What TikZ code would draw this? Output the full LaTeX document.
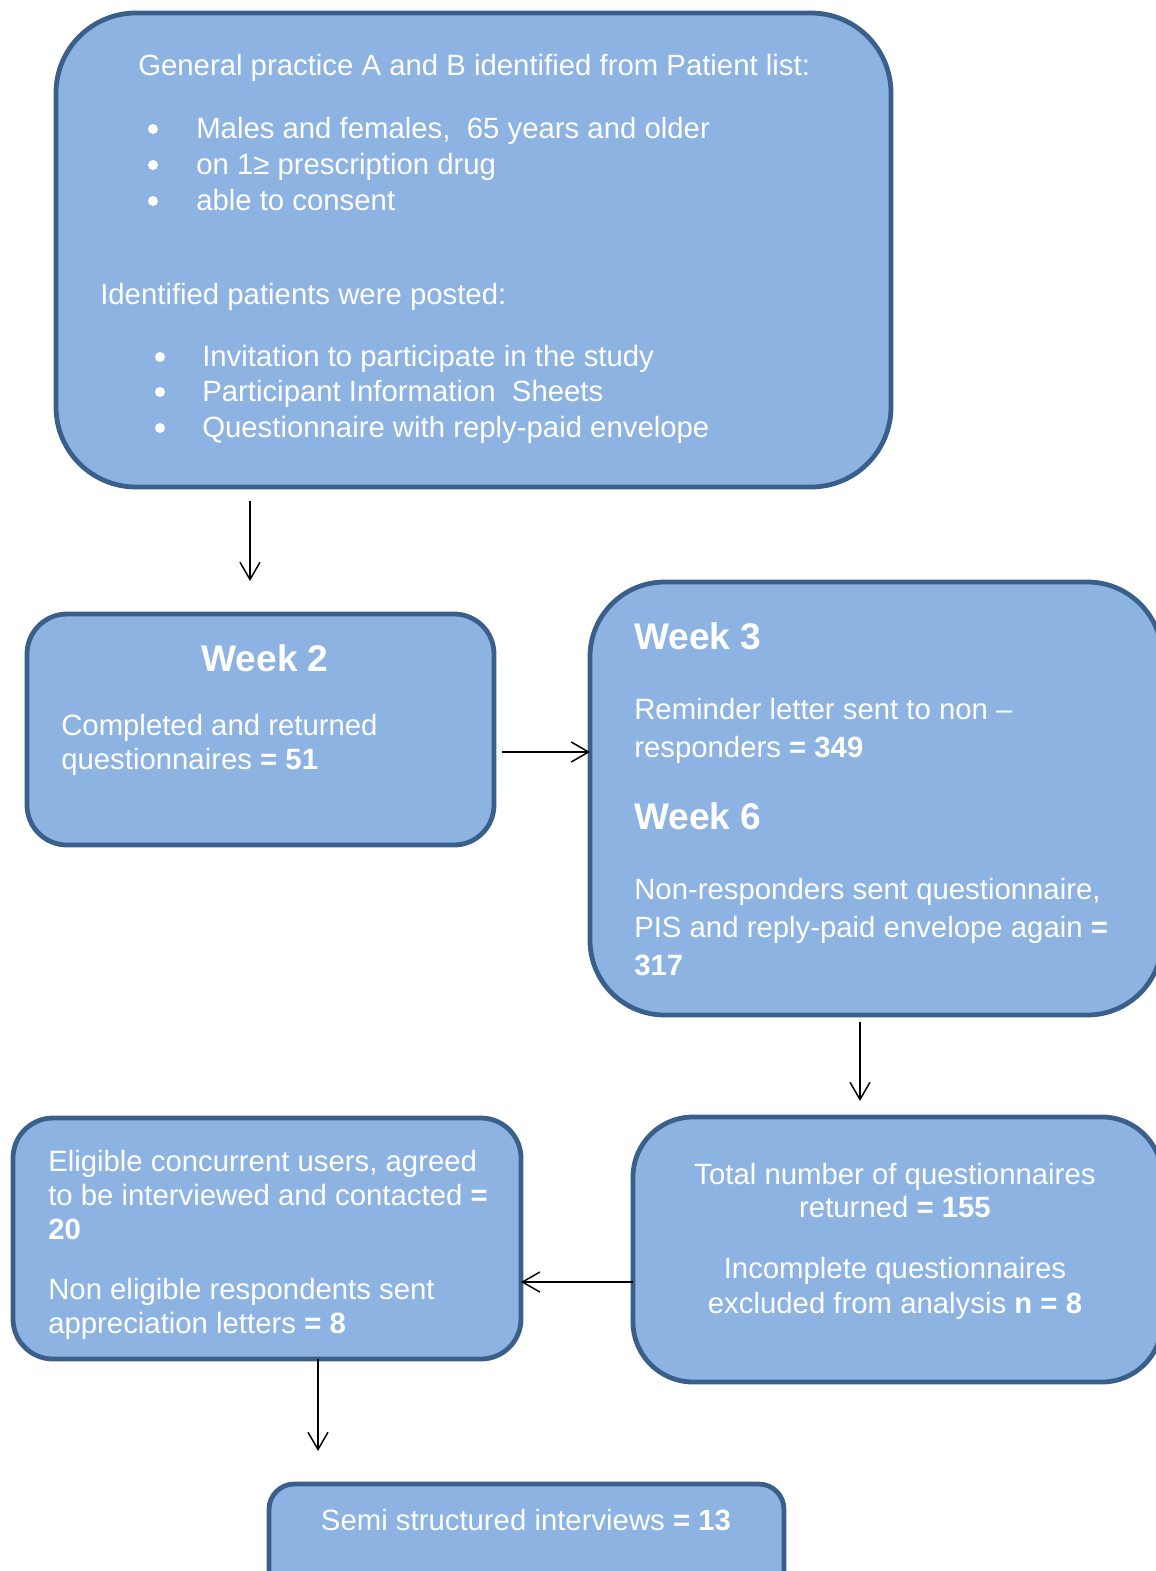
\documentclass[tikz,border=0pt]{standalone}
\usepackage{fontspec}
\setmainfont{Liberation Sans}
\usetikzlibrary{arrows.meta,fit}
\definecolor{boxfill}{HTML}{8DB3E2}
\definecolor{boxline}{HTML}{3A5F8B}
\begin{document}
\begin{tikzpicture}[x=0.75pt,y=-0.75pt,
  box/.style={draw=boxline, fill=boxfill, line width=3.6pt, inner sep=0pt, outer sep=0pt},
  txt/.style={text=white, inner sep=0pt, anchor=base west, font=\fontsize{22pt}{26pt}\selectfont},
  ctxt/.style={txt, anchor=base},
  head/.style={text=white, inner sep=0pt, anchor=base west, font=\fontsize{27.8pt}{32pt}\selectfont\bfseries},
  bul/.style={fill=white, draw=none},
  arr/.style={-{Straight Barb[length=13pt,width=15pt]}, line width=1.1pt, black}]
\useasboundingbox (0,0) rectangle (1156,1571);
\clip (0,0) rectangle (1156,1571);
% boxes
\node[box, rounded corners=60pt, fit={(56,13) (891,487)}] (top) {};
\node[box, rounded corners=30pt, fit={(27,614) (494,845)}] (w2) {};
\node[box, rounded corners=56pt, fit={(590,582) (1162,1015)}] (w3) {};
\node[box, rounded corners=45pt, fit={(633,1117) (1162,1382)}] (tot) {};
\node[box, rounded corners=30pt, fit={(13,1118) (521,1359)}] (elig) {};
\node[box, rounded corners=19pt, fit={(269,1484) (784,1600)}] (semi) {};
% top box text
\node[txt] (t1) at (138,75) {General practice A and B identified from Patient list:};
\fill[bul] (153,129) circle (5);
\fill[bul] (153,165) circle (5);
\fill[bul] (153,201) circle (5);
\node[txt] (t2) at (196,138) {Males and females,\ \ 65 years and older};
\node[txt] (t3) at (196,174) {on 1≥ prescription drug};
\node[txt] (t4) at (196,210) {able to consent};
\node[txt] (t5) at (100,304) {Identified patients were posted:};
\fill[bul] (160,357) circle (5);
\fill[bul] (160,392) circle (5);
\fill[bul] (160,428) circle (5);
\node[txt] (t6) at (202,366) {Invitation to participate in the study};
\node[txt] (t7) at (202,401) {Participant Information\ \ Sheets};
\node[txt] (t8) at (202,437) {Questionnaire with reply-paid envelope};
% week 2
\node[head, anchor=base] (h2) at (265,671) {Week 2};
\node[txt] (w2a) at (61,735) {Completed and returned};
\node[txt] (w2b) at (61,769) {questionnaires \textbf{= 51}};
% week 3 / 6
\node[head] (h3) at (634,649) {Week 3};
\node[txt] (w3a) at (634,719) {Reminder letter sent to non –};
\node[txt] (w3b) at (634,757) {responders \textbf{= 349}};
\node[head] (h6) at (634,829) {Week 6};
\node[txt] (w6a) at (634,899) {Non-responders sent questionnaire,};
\node[txt] (w6b) at (634,937) {PIS and reply-paid envelope again \textbf{=}};
\node[txt] (w6c) at (634,975) {\textbf{317}};
% total
\node[ctxt] (ta) at (895,1184) {Total number of questionnaires};
\node[ctxt] (tb) at (895,1217) {returned \textbf{= 155}};
\node[ctxt] (tc) at (895,1278) {Incomplete questionnaires};
\node[ctxt] (td) at (895,1313) {excluded from analysis \textbf{n = 8}};
% eligible
\node[txt] (ea) at (48,1171) {Eligible concurrent users, agreed};
\node[txt] (eb) at (48,1205) {to be interviewed and contacted \textbf{=}};
\node[txt] (ec) at (48,1239) {\textbf{20}};
\node[txt] (ed) at (48,1299) {Non eligible respondents sent};
\node[txt] (ee) at (48,1333) {appreciation letters \textbf{= 8}};
% semi
\node[ctxt] (sa) at (526,1530) {Semi structured interviews \textbf{= 13}};
% connectors
\coordinate (xa) at (250,0);
\coordinate (ya) at (0,752);
\coordinate (xb) at (860,0);
\coordinate (yb) at (0,1282);
\coordinate (xc) at (318,0);
\draw[arr, shorten <=10.5pt, shorten >=24.75pt] (top.south -| xa) -- (w2.north -| xa);
\draw[arr, shorten <=6pt] (w2.east |- ya) -- (w3.west |- ya);
\draw[arr, shorten <=5.25pt, shorten >=12pt] (w3.south -| xb) -- (tot.north -| xb);
\draw[arr] (tot.west |- yb) -- (elig.east |- yb);
\draw[arr, shorten >=24.75pt] (elig.south -| xc) -- (semi.north -| xc);
\end{tikzpicture}
\end{document}
